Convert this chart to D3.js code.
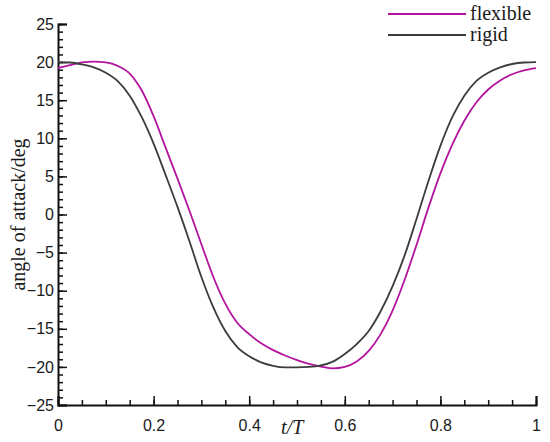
<!DOCTYPE html>
<html>
<head>
<meta charset="utf-8">
<script src="https://cdn.jsdelivr.net/npm/d3@7"></script>
<style>
  body { margin: 0; background: #fff; }
  svg text { fill: #1a1a1a; }
</style>
</head>
<body>
<div id="chart"></div>
<script>
// phase t/T, shared by both curves
var tValues = [0, 0.025, 0.05, 0.075, 0.1, 0.125, 0.15, 0.175, 0.2, 0.225,
  0.25, 0.275, 0.3, 0.325, 0.35, 0.375, 0.4, 0.425, 0.45, 0.475,
  0.5, 0.525, 0.55, 0.575, 0.6, 0.625, 0.65, 0.675, 0.7, 0.725,
  0.75, 0.775, 0.8, 0.825, 0.85, 0.875, 0.9, 0.925, 0.95, 0.975, 1];

// angle of attack (deg)
var flexible = [19.2, 19.6, 19.95, 20.05, 19.95, 19.5, 18.5, 16.3, 12.9, 8.8,
  4.7, 0.5, -3.9, -8.2, -11.7, -14.2, -15.7, -16.9, -17.8, -18.5,
  -19.1, -19.6, -19.95, -20.2, -20.0, -19.3, -17.9, -15.7, -12.6, -8.6,
  -4.0, 0.9, 5.4, 9.2, 12.3, 14.7, 16.4, 17.6, 18.4, 18.9, 19.2];

var rigid = [20.0, 19.95, 19.7, 19.3, 18.6, 17.5, 15.6, 12.8, 9.3, 5.2,
  1.0, -3.5, -8.2, -12.2, -15.3, -17.4, -18.6, -19.4, -19.85, -20.05,
  -20.05, -20.0, -19.8, -19.3, -18.3, -17.0, -15.3, -12.7, -9.4, -5.4,
  -0.6, 4.4, 9.0, 12.8, 15.6, 17.5, 18.6, 19.3, 19.75, 19.95, 20.0];

var seriesNames = ["flexible", "rigid"];
var seriesColors = ["#b3149e", "#3c3c3c"];
var xTicks = [0, 0.2, 0.4, 0.6, 0.8, 1];
var yTicks = [-25, -20, -15, -10, -5, 0, 5, 10, 15, 20, 25];

var width = 550;
var height = 442;
var margin = {left: 58, right: 14, top: 24, bottom: 37};

var svg = d3.select('#chart')
    .append('svg')
    .attr('width', width)
    .attr('height', height);

var x = d3.scaleLinear()
    .domain([0, 1])
    .range([margin.left, width - margin.right]);

var y = d3.scaleLinear()
    .domain([-25, 25])
    .range([height - margin.bottom, margin.top]);

var fmt = function (d) {
    return d < 0 ? '\u2212' + Math.abs(d) : String(d);
};

// minor ticks first, then major ticks on top
var xMinor = d3.range(0, 1.0001, 0.05);
var yMinor = d3.range(-25, 25.0001, 1);

svg.append('g')
    .attr('transform', 'translate(0,' + y(-25) + ')')
    .call(d3.axisBottom(x).tickValues(xMinor).tickSize(-5).tickFormat(''))
    .call(function (g) { g.select('.domain').remove(); });

svg.append('g')
    .attr('transform', 'translate(' + x(0) + ',0)')
    .call(d3.axisLeft(y).tickValues(yMinor).tickSize(-5).tickFormat(''))
    .call(function (g) { g.select('.domain').remove(); });

var xAxis = svg.append('g')
    .attr('transform', 'translate(0,' + y(-25) + ')')
    .call(d3.axisBottom(x).tickValues(xTicks).tickSize(-9).tickPadding(15).tickFormat(function (d) { return String(d); }));

var yAxis = svg.append('g')
    .attr('transform', 'translate(' + x(0) + ',0)')
    .call(d3.axisLeft(y).tickValues(yTicks).tickSize(-9).tickPadding(5).tickFormat(fmt));

svg.selectAll('.tick line')
    .attr('stroke', '#111')
    .attr('stroke-width', 1.5);

[xAxis, yAxis].forEach(function (a) {
    a.select('.domain').attr('stroke', '#111').attr('stroke-width', 2);
    a.selectAll('text')
        .attr('fill', '#1a1a1a')
        .style('font-family', '"Liberation Sans", Arial, sans-serif')
        .style('font-size', '16px');
});
yAxis.selectAll('.tick text').attr('x', -4);

// curves
var line = d3.line()
    .x(function (d) { return x(d[0]); })
    .y(function (d) { return y(d[1]); })
    .curve(d3.curveMonotoneX);

var allSeries = [flexible, rigid];
allSeries.forEach(function (vals, i) {
    svg.append('path')
        .datum(tValues.map(function (t, j) { return [t, vals[j]]; }))
        .attr('fill', 'none')
        .attr('stroke', seriesColors[i])
        .attr('stroke-width', 1.8)
        .attr('d', line);
});

// legend
var legend = svg.selectAll('.legend')
    .data(seriesNames)
    .enter()
    .append('g')
    .attr('class', 'legend')
    .attr('transform', function (d, i) {
        return 'translate(388,' + (14 + i * 21) + ')';
    });

legend.append('line')
    .attr('x1', 0)
    .attr('x2', 78)
    .attr('stroke', function (d, i) { return seriesColors[i]; })
    .attr('stroke-width', 1.8);

legend.append('text')
    .attr('x', 82)
    .attr('y', 6)
    .style('font-family', '"Liberation Serif", "Times New Roman", serif')
    .style('font-size', '20px')
    .text(function (d) { return d; });

// axis titles
svg.append('text')
    .attr('transform', 'translate(25,' + y(0) + ') rotate(-90)')
    .attr('text-anchor', 'middle')
    .style('font-family', '"Liberation Serif", "Times New Roman", serif')
    .style('font-size', '20px')
    .text('angle of attack/deg');

svg.append('text')
    .attr('x', x(0.49))
    .attr('y', 434)
    .attr('text-anchor', 'middle')
    .style('font-family', '"Liberation Serif", "Times New Roman", serif')
    .style('font-style', 'italic')
    .style('font-size', '20px')
    .text('t/T');
</script>
</body>
</html>
